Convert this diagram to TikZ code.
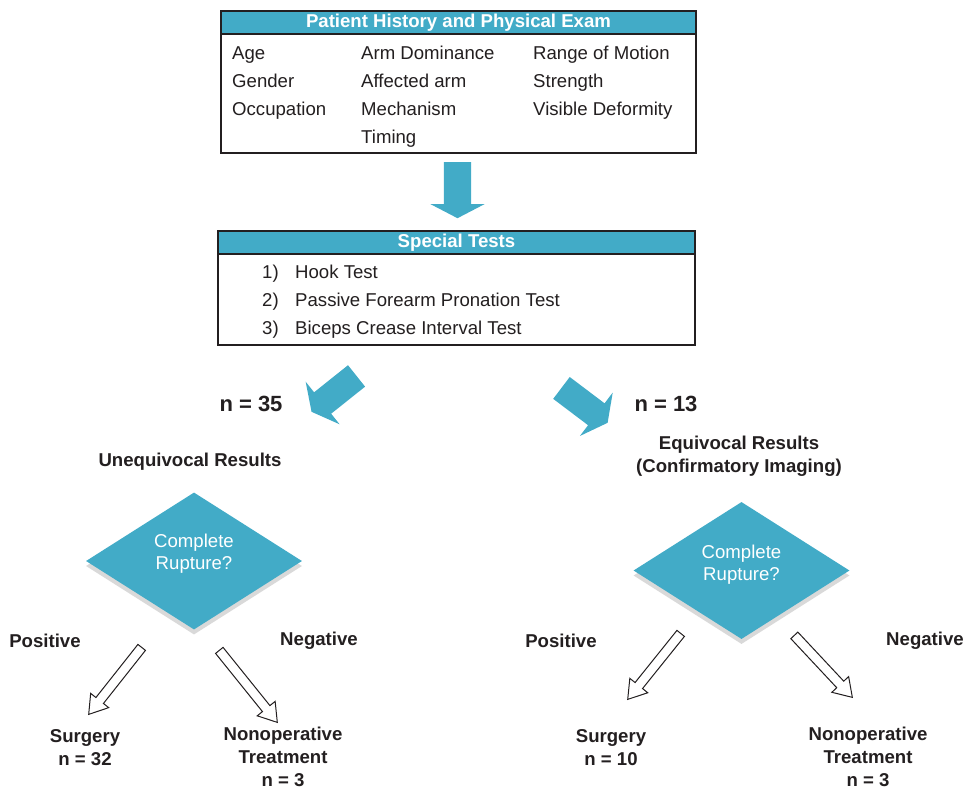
\documentclass[tikz,border=0pt]{standalone}
\usepackage{fontspec}
\setmainfont{Liberation Sans}
\usetikzlibrary{calc,positioning,shapes.geometric,shapes.arrows,shadows}
\definecolor{FlowTeal}{RGB}{66,171,199}
\definecolor{FlowInk}{RGB}{35,31,32}

\begin{document}
\begin{tikzpicture}[x=1pt, y=1pt,
  every node/.style={font=\fontsize{18.6}{23}\selectfont, text=FlowInk, inner sep=0pt},
  panel/.style={draw=FlowInk, line width=1.3pt, fill=white},
  headbar/.style={draw=FlowInk, line width=1.3pt, fill=FlowTeal, text=white, font=\fontsize{18.6}{23}\selectfont\bfseries, minimum height=23pt, anchor=north},
  item/.style={anchor=base west},
  tag/.style={font=\fontsize{18.6}{23}\selectfont\bfseries, align=center},
  count/.style={font=\fontsize{22}{26}\selectfont\bfseries},
  decision/.style={diamond, fill=FlowTeal, minimum width=216pt, minimum height=137pt, copy shadow={shadow xshift=0pt, shadow yshift=-5pt, fill=black!15, draw=none}},
  question/.style={text=white, align=center, font=\fontsize{18.6}{22}\selectfont},
  bigarrow/.style={single arrow, fill=FlowTeal, inner xsep=0pt, inner ysep=13.5pt, minimum width=54pt, single arrow head extend=13.5pt, single arrow tip angle=125},
  openarrow/.style={single arrow, draw=FlowInk, line width=1pt, fill=white, inner xsep=0pt, inner ysep=4.3pt, minimum width=22pt, single arrow head extend=6.7pt, single arrow tip angle=66},
  along/.style={pos=0, anchor=tail, sloped, allow upside down}]
\useasboundingbox (0,0) rectangle (964,-788);

% history box
\node[panel, minimum width=475pt, minimum height=142pt] (hist) at (458.5,-82) {};
\node[headbar, minimum width=475pt] (histhead) at (hist.north) {Patient History and Physical Exam};
\node[item] (age) at (232,-59) {Age};
\node[item] (gender) at (232,-87) {Gender};
\node[item] (occupation) at (232,-115) {Occupation};
\node[item] (armdom) at (361,-59) {Arm Dominance};
\node[item] (affarm) at (361,-87) {Affected arm};
\node[item] (mechanism) at (361,-115) {Mechanism};
\node[item] (timing) at (361,-143) {Timing};
\node[item] (rom) at (533,-59) {Range of Motion};
\node[item] (strength) at (533,-87) {Strength};
\node[item] (deformity) at (533,-115) {Visible Deformity};

% special tests box
\node[panel, minimum width=477pt, minimum height=114pt] (tests) at (456.5,-288) {};
\node[headbar, minimum width=477pt] (testshead) at (tests.north) {Special Tests};
\node[item] (onenum) at (262,-278.5) {1)};
\node[item] (hook) at (295,-278.5) {Hook Test};
\node[item] (twonum) at (262,-306.5) {2)};
\node[item] (pronation) at (295,-306.5) {Passive Forearm Pronation Test};
\node[item] (threenum) at (262,-334.5) {3)};
\node[item] (crease) at (295,-334.5) {Biceps Crease Interval Test};

% branch labels
\node[count] (nleft) at (251,-404) {n = 35};
\node[count] (nright) at (666,-404) {n = 13};
\node[tag] (unequiv) at (190,-461.5) {Unequivocal Results};
\node[tag] (equiv) at (739,-456.5) {Equivocal Results\\(Confirmatory Imaging)};

% decisions
\node[decision] (ldec) at (194,-561) {};
\node[question] (ldectext) at (194,-554) {Complete\\Rupture?};
\node[decision] (rdec) at (741.5,-570.5) {};
\node[question] (rdectext) at (741.5,-564.5) {Complete\\Rupture?};

\node[tag] (lpos) at (45,-641) {Positive};
\node[tag] (lneg) at (319,-641) {Negative};
\node[tag] (rpos) at (561,-641) {Positive};
\node[tag] (rneg) at (925,-641) {Negative};

\node[tag] (lsurg) at (85,-747.5) {Surgery\\n = 32};
\node[tag] (lnonop) at (283,-757) {Nonoperative\\Treatment\\n = 3};
\node[tag] (rsurg) at (611,-747.5) {Surgery\\n = 10};
\node[tag] (rnonop) at (868,-757) {Nonoperative\\Treatment\\n = 3};

% arrow ends
\coordinate (dntail) at (457.5,-162);
\coordinate (dntip) at (457.5,-218);
\coordinate (lttail) at (356.7,-375.8);
\coordinate (lttip) at (311.7,-411.7);
\coordinate (rttail) at (561.3,-387.8);
\coordinate (rttip) at (607.5,-422.7);
\coordinate (lltail) at (142,-647);
\coordinate (lltip) at (89,-714);
\coordinate (lrtail) at (219,-650);
\coordinate (lrtip) at (277,-722);
\coordinate (rltail) at (681,-633);
\coordinate (rltip) at (628,-699);
\coordinate (rrtail) at (794,-635);
\coordinate (rrtip) at (852,-697);

% block arrows
\path let \p1=($(dntip)-(dntail)$) in (dntail) -- (dntip) node[bigarrow, along, minimum height={veclen(\x1,\y1)}] {};
\path let \p1=($(lttip)-(lttail)$) in (lttail) -- (lttip) node[bigarrow, along, minimum height={veclen(\x1,\y1)}] {};
\path let \p1=($(rttip)-(rttail)$) in (rttail) -- (rttip) node[bigarrow, along, minimum height={veclen(\x1,\y1)}] {};
\path let \p1=($(lltip)-(lltail)$) in (lltail) -- (lltip) node[openarrow, along, minimum height={veclen(\x1,\y1)}] {};
\path let \p1=($(lrtip)-(lrtail)$) in (lrtail) -- (lrtip) node[openarrow, along, minimum height={veclen(\x1,\y1)}] {};
\path let \p1=($(rltip)-(rltail)$) in (rltail) -- (rltip) node[openarrow, along, minimum height={veclen(\x1,\y1)}] {};
\path let \p1=($(rrtip)-(rrtail)$) in (rrtail) -- (rrtip) node[openarrow, along, minimum height={veclen(\x1,\y1)}] {};
\end{tikzpicture}
\end{document}
